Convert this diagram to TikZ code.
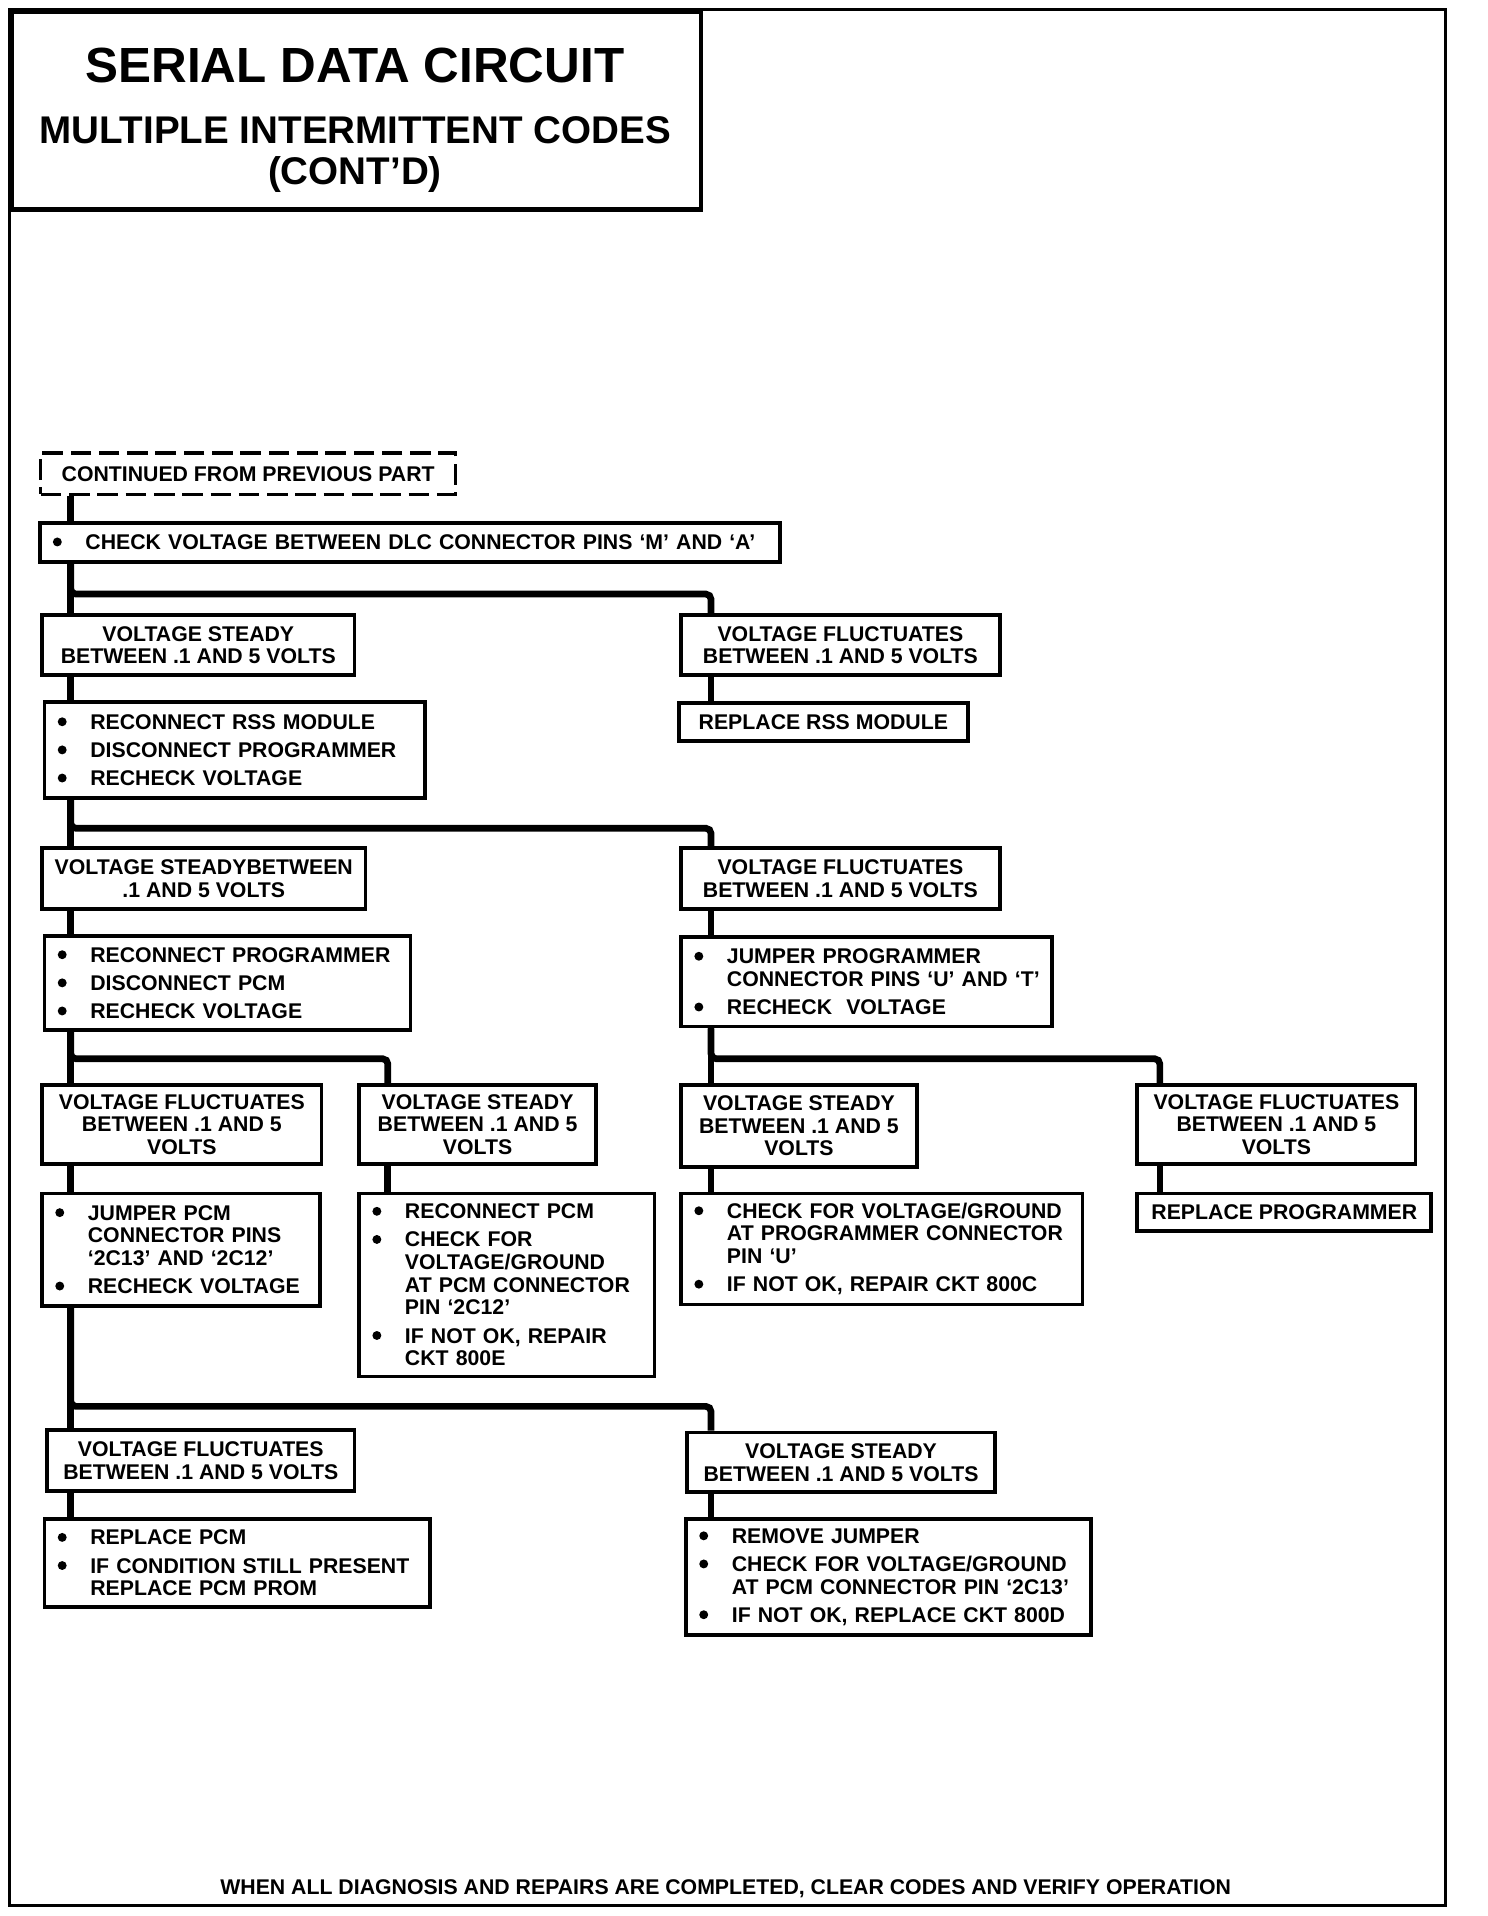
\documentclass[tikz,border=0pt]{standalone}
\usepackage{fontspec}
\setmainfont{Liberation Sans}
\newcommand{\bdot}{\tikz[baseline=0pt]\fill (2.8pt,4.4pt) circle[radius=2.6pt];}
\newcommand{\itm}[1]{\mbox{\makebox[19pt][l]{\bdot}#1}}
\newcommand{\cnt}[1]{\mbox{\hspace*{19pt}#1}}
\tikzset{
  box/.style={draw, line width=2.2pt, anchor=north west, inner sep=0pt,
    font=\fontsize{12.4}{13.2}\selectfont\bfseries},
  head/.style={box, align=center},
  list/.style={box, align=left, inner xsep=0.27cm},
  link/.style={line width=3.9pt, rounded corners=3pt},
  big/.style={anchor=base, font=\fontsize{#1}{#1}\selectfont\bfseries},
}
\begin{document}
\begin{tikzpicture}[x=0.025cm, y=-0.025cm]
  \useasboundingbox (0,0) rectangle (1220,1571);
  \draw[line width=1.8pt] (8,8) rectangle (1185,1562);
  \node (titlebox) [box, line width=2.6pt, minimum width=14.125cm, minimum height=4.05cm] at (8,8) {};
  \node (serial) [big=28.8] at (291,68) {SERIAL DATA CIRCUIT};
  \node (multi) [big=22.5] at (291,118) {MULTIPLE INTERMITTENT CODES};
  \node (contd) [big=22.5] at (291,151) {(CONT'D)};

  \coordinate (L) at (58,0);
  \coordinate (M) at (318,0);
  \coordinate (R) at (583,0);
  \coordinate (Q) at (951,0);

  \node (prev) [head, dashed, dash pattern=on 12pt off 4.5pt, line width=2pt,
    minimum width=8.5cm, minimum height=0.85cm] at (32,370) {CONTINUED FROM PREVIOUS PART};
  \node (check) [list, text width=14.635cm, minimum height=0.8cm] at (31,427)
    {\itm{CHECK VOLTAGE BETWEEN DLC CONNECTOR PINS `M' AND `A'}};

  \node (a1) [head, minimum width=6.4cm, minimum height=1.225cm] at (33,503)
    {VOLTAGE STEADY\\BETWEEN .1 AND 5 VOLTS};
  \node (b1) [head, minimum width=6.525cm, minimum height=1.225cm] at (557,503)
    {VOLTAGE FLUCTUATES\\BETWEEN .1 AND 5 VOLTS};
  \node (a2) [list, text width=7.26cm, minimum height=1.975cm] at (35,574)
    {\itm{RECONNECT RSS MODULE}\\[3.2pt]\itm{DISCONNECT PROGRAMMER}\\[3.2pt]\itm{RECHECK VOLTAGE}};
  \node (b2) [head, minimum width=5.925cm, minimum height=0.775cm] at (555,575)
    {REPLACE RSS MODULE};

  \node (a3) [head, minimum width=6.625cm, minimum height=1.25cm] at (33,694)
    {VOLTAGE STEADYBETWEEN\\.1 AND 5 VOLTS};
  \node (b3) [head, minimum width=6.525cm, minimum height=1.25cm] at (557,694)
    {VOLTAGE FLUCTUATES\\BETWEEN .1 AND 5 VOLTS};
  \node (a4) [list, text width=6.96cm, minimum height=1.925cm] at (35,766)
    {\itm{RECONNECT PROGRAMMER}\\[3.2pt]\itm{DISCONNECT PCM}\\[3.2pt]\itm{RECHECK VOLTAGE}};
  \node (b4) [list, text width=7.06cm, minimum height=1.825cm] at (557,767)
    {\itm{JUMPER PROGRAMMER}\\\cnt{CONNECTOR PINS `U' AND `T'}\\[3.2pt]\itm{RECHECK\ \ VOLTAGE}};

  \node (c1) [head, minimum width=5.725cm, minimum height=1.625cm] at (33,888)
    {VOLTAGE FLUCTUATES\\BETWEEN .1 AND 5\\VOLTS};
  \node (c2) [head, minimum width=4.85cm, minimum height=1.625cm] at (293,888)
    {VOLTAGE STEADY\\BETWEEN .1 AND 5\\VOLTS};
  \node (c3) [head, minimum width=4.825cm, minimum height=1.675cm] at (557,888)
    {VOLTAGE STEADY\\BETWEEN .1 AND 5\\VOLTS};
  \node (c4) [head, minimum width=5.7cm, minimum height=1.625cm] at (931,888)
    {VOLTAGE FLUCTUATES\\BETWEEN .1 AND 5\\VOLTS};
  \node (d1) [list, text width=5.16cm, minimum height=2.3cm] at (33,977)
    {\itm{JUMPER PCM}\\\cnt{CONNECTOR PINS}\\\cnt{`2C13' AND `2C12'}\\[3.2pt]\itm{RECHECK VOLTAGE}};
  \node (d2) [list, text width=5.51cm, minimum height=3.75cm] at (293,977)
    {\itm{RECONNECT PCM}\\[3.2pt]\itm{CHECK FOR}\\\cnt{VOLTAGE/GROUND}\\\cnt{AT PCM CONNECTOR}\\\cnt{PIN `2C12'}\\[3.2pt]\itm{IF NOT OK, REPAIR}\\\cnt{CKT 800E}};
  \node (d3) [list, text width=7.685cm, minimum height=2.275cm] at (557,977)
    {\itm{CHECK FOR VOLTAGE/GROUND}\\\cnt{AT PROGRAMMER CONNECTOR}\\\cnt{PIN `U'}\\[3.2pt]\itm{IF NOT OK, REPAIR CKT 800C}};
  \node (d4) [head, minimum width=6.025cm, minimum height=0.775cm] at (931,977)
    {REPLACE PROGRAMMER};

  \node (e1) [head, minimum width=6.3cm, minimum height=1.25cm] at (37,1171)
    {VOLTAGE FLUCTUATES\\BETWEEN .1 AND 5 VOLTS};
  \node (e2) [head, minimum width=6.3cm, minimum height=1.225cm] at (562,1173)
    {VOLTAGE STEADY\\BETWEEN .1 AND 5 VOLTS};
  \node (f1) [list, text width=7.36cm, minimum height=1.8cm] at (35,1244)
    {\itm{REPLACE PCM}\\[3.2pt]\itm{IF CONDITION STILL PRESENT}\\\cnt{REPLACE PCM PROM}};
  \node (f2) [list, text width=7.76cm, minimum height=2.375cm] at (561,1244)
    {\itm{REMOVE JUMPER}\\[3.2pt]\itm{CHECK FOR VOLTAGE/GROUND}\\\cnt{AT PCM CONNECTOR PIN `2C13'}\\[3.2pt]\itm{IF NOT OK, REPLACE CKT 800D}};

  \node (footer) [big=12.4] at (595,1553)
    {WHEN ALL DIAGNOSIS AND REPAIRS ARE COMPLETED, CLEAR CODES AND VERIFY OPERATION};

  \draw[link] (prev.south -| L) -- (check.north -| L);
  \draw[link] (check.south -| L) -- (a1.north -| L);
  \draw[link] (check.south -| L) -- ++(0,25) -| (b1.north -| R);
  \draw[link] (a1.south -| L) -- (a2.north -| L);
  \draw[link] (b1.south -| R) -- (b2.north -| R);
  \draw[link] (a2.south -| L) -- (a3.north -| L);
  \draw[link] (a2.south -| L) -- ++(0,23) -| (b3.north -| R);
  \draw[link] (a3.south -| L) -- (a4.north -| L);
  \draw[link] (b3.south -| R) -- (b4.north -| R);
  \draw[link] (a4.south -| L) -- (c1.north -| L);
  \draw[link] (a4.south -| L) -- ++(0,22) -| (c2.north -| M);
  \draw[link] (b4.south -| R) -- (c3.north -| R);
  \draw[link] (b4.south -| R) -- ++(0,25) -| (c4.north -| Q);
  \draw[link] (c1.south -| L) -- (d1.north -| L);
  \draw[link] (c2.south -| M) -- (d2.north -| M);
  \draw[link] (c3.south -| R) -- (d3.north -| R);
  \draw[link] (c4.south -| Q) -- (d4.north -| Q);
  \draw[link] (d1.south -| L) -- (e1.north -| L);
  \draw[link] (d1.south -| L) -- ++(0,81) -| (e2.north -| R);
  \draw[link] (e1.south -| L) -- (f1.north -| L);
  \draw[link] (e2.south -| R) -- (f2.north -| R);
\end{tikzpicture}
\end{document}
